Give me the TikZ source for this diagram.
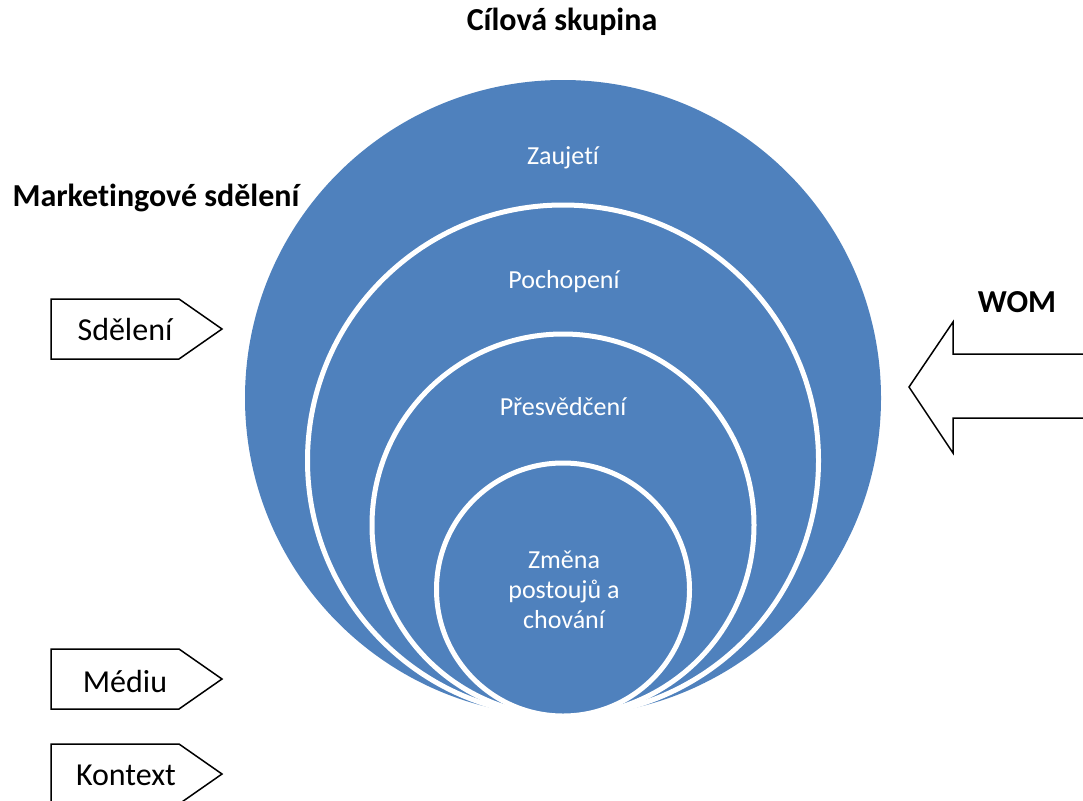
\documentclass[tikz,border=0pt]{standalone}
\usepackage{fontspec}
\setmainfont{Carlito}[Ligatures={NoCommon,NoContextual}]
\definecolor{ringblue}{HTML}{4F81BD}
\newcommand{\nolig}{\kern0pt}
\begin{document}
\begin{tikzpicture}[x=1pt,y=-1pt,
  ring/.style={fill=ringblue,draw=white,line width=5pt},
  ringtext/.style={text=white,font=\fontsize{26}{30}\selectfont,align=center},
  headtext/.style={font=\bfseries\fontsize{32}{36}\selectfont},
  tagtext/.style={font=\fontsize{32}{38}\selectfont},
  outline/.style={draw=black,line width=1.5pt,line join=miter}]
\useasboundingbox (0,0) rectangle (1083,800);
\begin{scope}
\clip (0,0) rectangle (1083,800);
% circles
\fill[ringblue] (563,398) circle (318);
\draw[ring] (563,460.5) circle (255.5);
\draw[ring] (563,525) circle (191);
\draw[ring] (563,589.5) circle (126.5);
% WOM arrow
\coordinate (womA) at (1090,354);
\coordinate (womB) at (1090,418);
\draw[outline] (womA) -- (953,354) -- (953,322) -- (909,387) -- (953,453) -- (953,418) -- (womB);
% tags
\draw[outline] (51,299) -- (179,299) -- (222,329) -- (179,359) -- (51,359) -- cycle;
\draw[outline] (51,649) -- (179,649) -- (222,679) -- (179,709) -- (51,709) -- cycle;
\draw[outline] (51,744) -- (179,744) -- (222,774) -- (179,804) -- (51,804) -- cycle;
\end{scope}
\node[ringtext] (zaujeti) at (563,158) {Zaujet\nolig í};
\node[ringtext] (pochopeni) at (564,282) {Pochopení};
\node[ringtext] (presvedceni) at (563,407) {Přesvědčení};
\node[ringtext] (zmena) at (564,590) {Změna\\postoujů a\\chování};
\node[headtext] (title) at (562,22) {Cílová skupina};
\node[headtext] (marketing) at (156,198) {Market\nolig ingové sdělení};
\node[headtext] (wom) at (1017,302) {WOM};
\node[tagtext] (sdeleni) at (125,329) {Sdělení};
\node[tagtext] (mediu) at (125,681) {Médiu};
\node[tagtext] (kontext) at (126,775) {Kontext};
\end{tikzpicture}
\end{document}
